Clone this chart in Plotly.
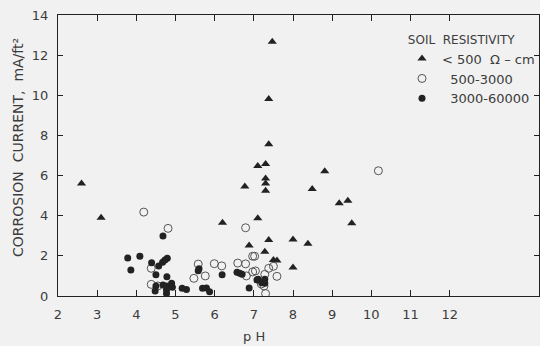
import plotly.graph_objects as go

# <500 ohm-cm (triangles)
tri_ph = [2.6, 3.1, 6.2, 6.77, 7.1, 7.3, 7.3, 7.3, 7.3, 7.38, 7.38, 7.47, 7.1, 6.88, 7.38, 7.28,
          7.5, 7.59, 8.0, 8.0, 8.38, 8.49, 8.81, 9.18, 9.4, 9.5]
tri_val = [5.6, 3.9, 3.65, 5.45, 6.48, 6.58, 5.85, 5.6, 5.25, 9.82, 7.56, 12.67, 3.87, 2.52, 2.79, 2.2,
           1.79, 1.77, 2.82, 1.42, 2.6, 5.33, 6.22, 4.62, 4.75, 3.62]

# 500-3000 (open circles)
open_ph = [4.19, 4.81, 4.38, 4.38, 4.55, 5.58, 5.47, 5.76, 5.99, 6.18, 6.59, 6.79, 6.79, 6.97, 7.02,
           6.97, 7.04, 6.81, 7.28, 7.26, 7.3, 7.38, 7.5, 7.59, 7.19, 10.18]
open_val = [4.18, 3.37, 1.38, 0.58, 0.5, 1.59, 0.88, 1.0, 1.61, 1.5, 1.64, 1.6, 3.4, 1.98, 1.98,
            1.2, 1.25, 1.0, 1.08, 0.5, 0.12, 1.38, 1.48, 0.98, 0.6, 6.24]

# 3000-60000 (filled circles)
fill_ph = [3.78, 3.86, 4.09, 4.39, 4.5, 4.68, 4.57, 4.67, 4.73, 4.79, 4.78, 4.5, 4.48, 4.68, 4.77,
           4.9, 4.92, 4.77, 4.77, 5.17, 5.28, 5.58, 5.6, 5.69, 5.79, 5.87, 6.19, 6.57, 6.64, 6.7,
           6.88, 7.08, 7.11, 7.2, 7.28, 7.28]
fill_val = [1.89, 1.3, 1.98, 1.66, 1.06, 2.99, 1.49, 1.68, 1.79, 1.88, 0.96, 0.5, 0.25, 0.55, 0.5,
            0.63, 0.43, 0.3, 0.12, 0.38, 0.33, 1.26, 1.36, 0.38, 0.4, 0.21, 1.06, 1.18, 1.13, 1.08,
            0.4, 0.8, 0.83, 0.66, 0.83, 0.63]

x_ticks = [2, 3, 4, 5, 6, 7, 8, 9, 10, 11, 12]
y_ticks = [0, 2, 4, 6, 8, 10, 12, 14]

ink = "#222222"
txt = "#3c3c3c"
bg = "#f1f1f1"
font_family = "DejaVu Sans, sans-serif"

fig = go.Figure()
fig.add_trace(go.Scatter(x=tri_ph, y=tri_val, mode="markers", name="< 500  \u03a9 \u2013 cm",
                         marker=dict(symbol="triangle-up", size=8, color=ink, line=dict(width=0))))
fig.add_trace(go.Scatter(x=open_ph, y=open_val, mode="markers", name="  500-3000",
                         marker=dict(symbol="circle-open", size=8, color="#555555", line=dict(width=1))))
fig.add_trace(go.Scatter(x=fill_ph, y=fill_val, mode="markers", name="  3000-60000",
                         marker=dict(symbol="circle", size=7, color=ink, line=dict(width=0))))

W, H = 540, 346
L, R, T, B = 58, 0, 15, 50
xmax = 2 + (W - L - R) / 39.25

fig.update_layout(
    width=W, height=H,
    margin=dict(l=L, r=R, t=T, b=B),
    paper_bgcolor=bg, plot_bgcolor=bg,
    font=dict(family=font_family, color=txt, size=13),
    showlegend=True,
    legend=dict(
        x=(403 - L) / (W - L - R), y=(296 - 28) / (296 - 15), xanchor="left", yanchor="top",
        bgcolor="rgba(0,0,0,0)", borderwidth=0,
        font=dict(size=13, color=txt),
        title=dict(text=" SOIL  RESISTIVITY", font=dict(size=12, color=txt)),
        tracegroupgap=0, itemwidth=30,
    ),
    xaxis=dict(
        range=[2, xmax], tickvals=x_ticks, ticktext=[str(v) for v in x_ticks],
        showgrid=False, zeroline=False,
        showline=True, linecolor=ink, linewidth=1.2, mirror="ticks",
        ticks="inside", ticklen=6, tickcolor=ink, tickwidth=1,
        tickfont=dict(size=13, color=txt), ticklabelstandoff=6,
    ),
    yaxis=dict(
        range=[0, 14], tickvals=y_ticks,
        showgrid=False, zeroline=False,
        showline=True, linecolor=ink, linewidth=1.2, mirror="ticks",
        ticks="inside", ticklen=5, tickcolor=ink, tickwidth=1,
        tickfont=dict(size=13, color=txt), ticklabelstandoff=6,
    ),
    annotations=[
        dict(text="CORROSION  CURRENT,  mA/ft\u00b2", textangle=-90,
             xref="paper", yref="paper", x=-(L - 18) / (W - L - R), y=0.527,
             xanchor="center", yanchor="middle", showarrow=False,
             font=dict(size=14, color=txt)),
        dict(text="p H", xref="x", yref="paper", x=7, y=-(336 - 296) / (296 - 15),
             xanchor="center", yanchor="middle", showarrow=False,
             font=dict(size=13, color=txt)),
    ],
)

fig.write_html("out.html")
